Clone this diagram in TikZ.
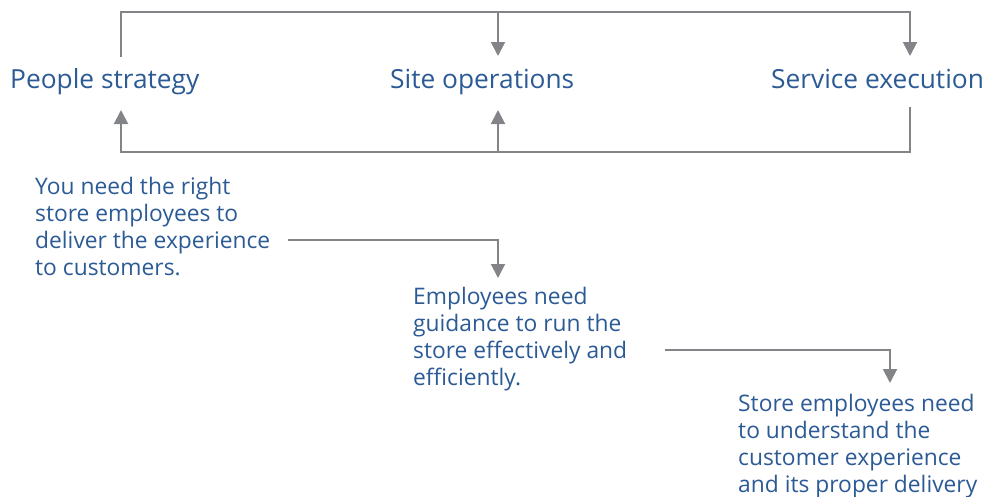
\documentclass[tikz,border=0pt]{standalone}
\usepackage{fontspec}
\setmainfont{Open Sans}
\usetikzlibrary{arrows.meta}
\definecolor{txtblue}{HTML}{2B5A95}
\definecolor{linegrey}{HTML}{838487}
\begin{document}
\begin{tikzpicture}[x=1pt,y=-1pt,
  title/.style={font=\fontsize{26.3}{30}\selectfont, text=txtblue, inner sep=0pt, anchor=base west},
  body/.style={font=\fontsize{22.8}{27}\selectfont, text=txtblue, inner sep=0pt, anchor=north west, align=left},
  conn/.style={draw=linegrey, line width=2pt},
  arr/.style={conn, -{Triangle[width=14pt,length=14pt]}}]
\useasboundingbox (0,0) rectangle (986,496);

% the three areas
\node[title] (people)  at (10,88)  {People strategy};
\node[title] (site)    at (390,88) {Site operations};
\node[title] (service) at (771,88) {Service execution};

% explanations
\node[body] (why1) at (35,177) {You need the right\\store employees to\\deliver the experience\\to customers.};
\node[body] (why2) at (413,286.5) {Employees need\\guidance to run the\\store effectively and\\efficiently.};
\node[body] (why3) at (738,394) {Store employees need\\to understand the\\customer experience\\and its proper delivery};

% end points of the loops
\coordinate (pTop) at (121,57);
\coordinate (pBot) at (121,110);
\coordinate (sTop) at (498,56);
\coordinate (sBot) at (498,110);
\coordinate (eTop) at (910,56);
\coordinate (eBot) at (910,107);
\coordinate (topRail) at (498,12);
\coordinate (botRail) at (498,152);

% forward loop over the top
\draw[arr] (pTop) |- (topRail) -- (sTop);
\draw[arr] (topRail) -| (eTop);

% feedback loop along the bottom
\draw[arr] (eBot) |- (botRail) -- (sBot);
\draw[arr] (botRail) -| (pBot);

% links between the explanations
\coordinate (w1) at (288,240);
\coordinate (w1t) at (498,278);
\coordinate (w2) at (665,350);
\coordinate (w2t) at (890,383);
\draw[arr] (w1) -| (w1t);
\draw[arr] (w2) -| (w2t);
\end{tikzpicture}
\end{document}
